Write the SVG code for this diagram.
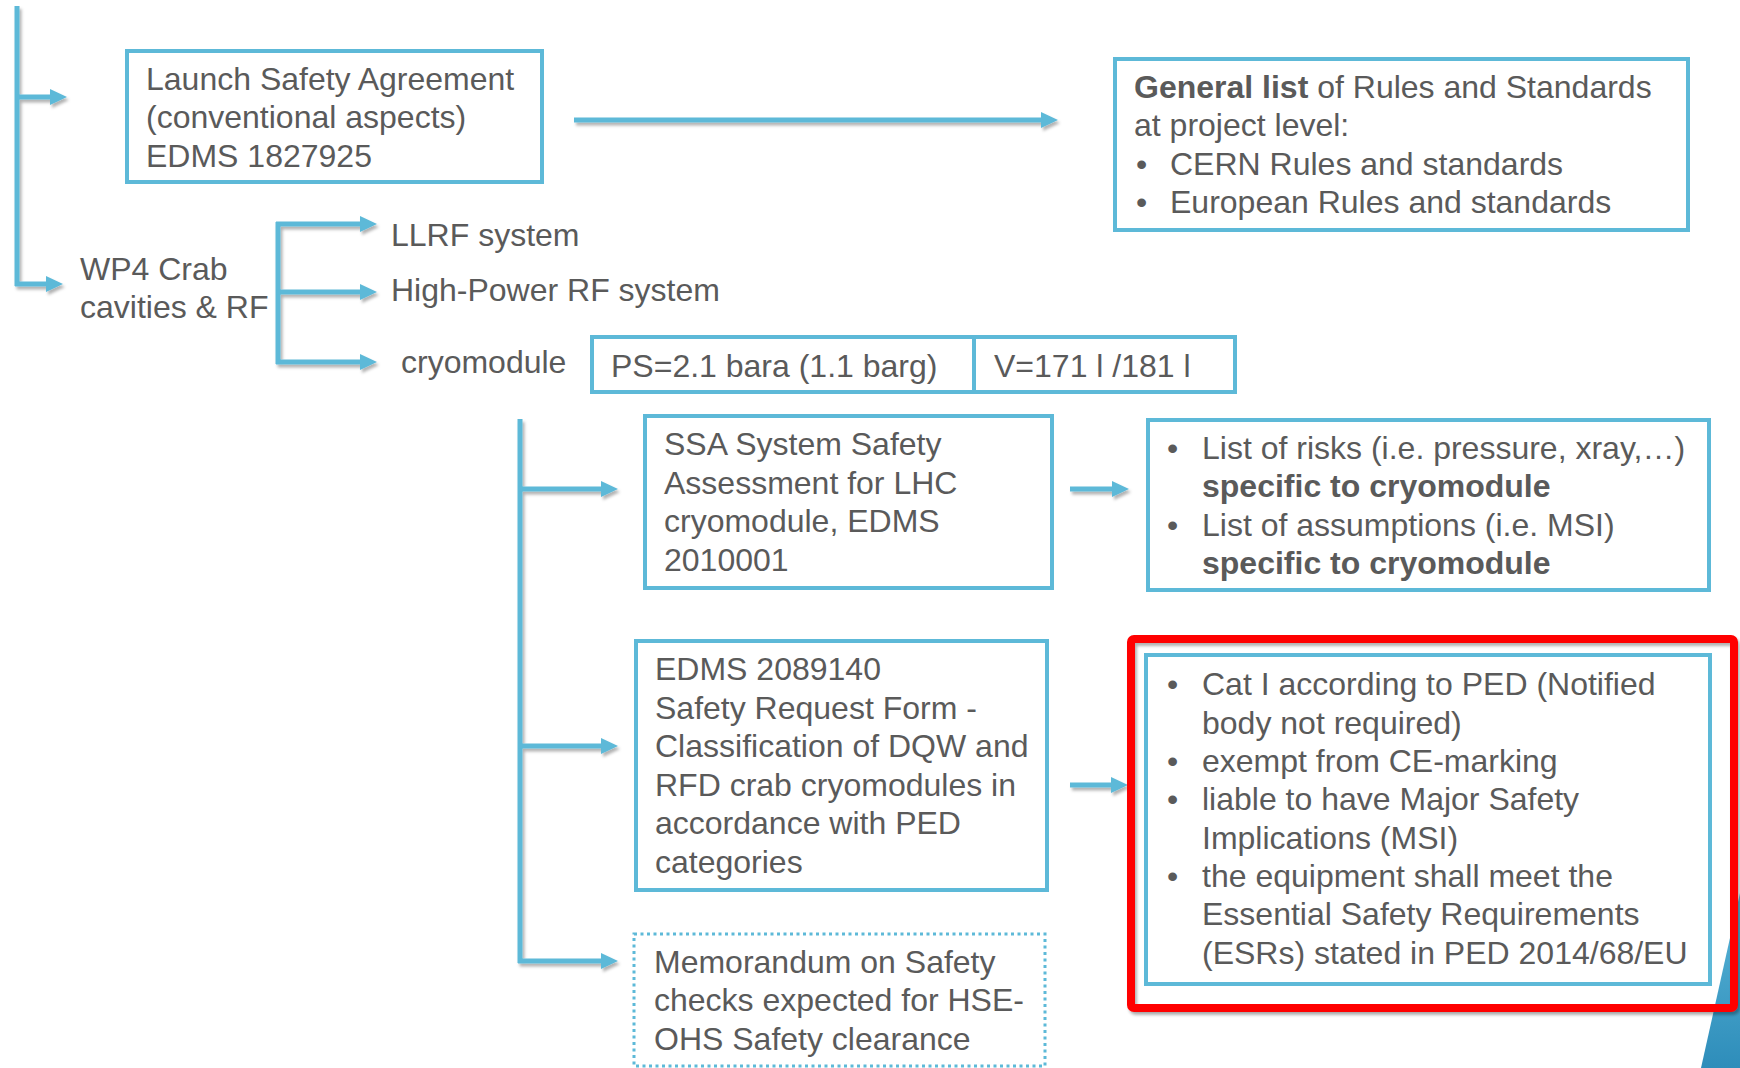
<svg xmlns="http://www.w3.org/2000/svg" width="1740" height="1068" viewBox="0 0 1740 1068">
  <defs>
    <style>
      .t { font-family: "Liberation Sans", Arial, sans-serif; font-size: 32px; fill: #5A5A5A; }
      .b { font-weight: bold; }
      .box { fill: #ffffff; stroke: #5DB9D8; stroke-width: 4; }
      .dot { fill: #ffffff; stroke: #5DB9D8; stroke-width: 3; stroke-dasharray: 3 3.5; }
      .ln { fill: none; stroke: #5DB9D8; stroke-width: 5; }
      .ar { fill: none; stroke: #5DB9D8; stroke-width: 5; marker-end: url(#ah); }
    </style>
    <marker id="ah" markerUnits="userSpaceOnUse" viewBox="0 0 17 16" markerWidth="17" markerHeight="16" refX="0" refY="8" orient="auto">
      <path d="M0,0 L17,8 L0,16 z" fill="#5DB9D8"/>
    </marker>
    <filter id="sh" filterUnits="userSpaceOnUse" x="0" y="0" width="1740" height="1068">
      <feDropShadow dx="2" dy="3" stdDeviation="1.5" flood-color="#000000" flood-opacity="0.3"/>
    </filter>
    <linearGradient id="tri" x1="0" y1="0" x2="0" y2="1">
      <stop offset="0" stop-color="#5BB6D8"/>
      <stop offset="1" stop-color="#2E8DBA"/>
    </linearGradient>
  </defs>

  <rect width="1740" height="1068" fill="#ffffff"/>

  <g id="connectors" filter="url(#sh)">
    <line class="ln" x1="17" y1="6" x2="17" y2="286"/>
    <line class="ar" x1="15" y1="97" x2="50" y2="97"/>
    <line class="ar" x1="15" y1="284" x2="46" y2="284"/>
    <line class="ar" x1="574" y1="120" x2="1041" y2="120"/>
    <line class="ln" x1="278" y1="222" x2="278" y2="364"/>
    <line class="ar" x1="276" y1="224" x2="360" y2="224"/>
    <line class="ar" x1="276" y1="292" x2="360" y2="292"/>
    <line class="ar" x1="276" y1="362" x2="360" y2="362"/>
    <line class="ln" x1="520" y1="419" x2="520" y2="963"/>
    <line class="ar" x1="518" y1="489" x2="601" y2="489"/>
    <line class="ar" x1="518" y1="746" x2="601" y2="746"/>
    <line class="ar" x1="518" y1="961" x2="601" y2="961"/>
    <line class="ar" x1="1070" y1="489" x2="1112" y2="489"/>
    <line class="ar" x1="1070" y1="785" x2="1111" y2="785"/>
  </g>

  <g id="launch">
    <rect class="box" x="127" y="51" width="415" height="131"/>
    <text class="t"><tspan x="146" y="90">Launch Safety Agreement</tspan><tspan x="146" y="128">(conventional aspects)</tspan><tspan x="146" y="167">EDMS 1827925</tspan></text>
  </g>

  <g id="general">
    <rect class="box" x="1115" y="59" width="573" height="171"/>
    <text class="t"><tspan x="1134" y="98"><tspan class="b">General list</tspan> of Rules and Standards</tspan><tspan x="1134" y="136">at project level:</tspan></text>
    <text class="t"><tspan x="1136" y="175">•</tspan><tspan x="1170" y="175">CERN Rules and standards</tspan><tspan x="1136" y="213">•</tspan><tspan x="1170" y="213">European Rules and standards</tspan></text>
  </g>

  <g id="wp4">
    <text class="t"><tspan x="80" y="280">WP4 Crab</tspan><tspan x="80" y="318">cavities &amp; RF</tspan></text>
  </g>

  <g id="llrf">
    <text class="t" x="391" y="246">LLRF system</text>
  </g>

  <g id="hprf">
    <text class="t" x="391" y="301">High-Power RF system</text>
  </g>

  <g id="cryomodule">
    <text class="t" x="401" y="373">cryomodule</text>
  </g>

  <g id="ps">
    <rect class="box" x="592" y="337" width="382" height="55"/>
    <text class="t" x="611" y="377">PS=2.1 bara (1.1 barg)</text>
  </g>

  <g id="volume">
    <rect class="box" x="974" y="337" width="261" height="55"/>
    <text class="t" x="994" y="377">V=171 l /181 l</text>
  </g>

  <g id="ssa">
    <rect class="box" x="645" y="416" width="407" height="172"/>
    <text class="t"><tspan x="664" y="455">SSA System Safety</tspan><tspan x="664" y="494">Assessment for LHC</tspan><tspan x="664" y="532">cryomodule, EDMS</tspan><tspan x="664" y="571">2010001</tspan></text>
  </g>

  <g id="risks">
    <rect class="box" x="1148" y="420" width="561" height="170"/>
    <text class="t"><tspan x="1167" y="459">•</tspan><tspan x="1202" y="459">List of risks (i.e. pressure, xray,…)</tspan><tspan class="b" x="1202" y="497">specific to cryomodule</tspan><tspan x="1167" y="536">•</tspan><tspan x="1202" y="536">List of assumptions (i.e. MSI)</tspan><tspan class="b" x="1202" y="574">specific to cryomodule</tspan></text>
  </g>

  <g id="srf">
    <rect class="box" x="636" y="641" width="411" height="249"/>
    <text class="t"><tspan x="655" y="680">EDMS 2089140</tspan><tspan x="655" y="719">Safety Request Form -</tspan><tspan x="655" y="757">Classification of DQW and</tspan><tspan x="655" y="796">RFD crab cryomodules in</tspan><tspan x="655" y="834">accordance with PED</tspan><tspan x="655" y="873">categories</tspan></text>
  </g>

  <g id="ped">
    <rect x="1131" y="639" width="603" height="369" rx="3" fill="#ffffff" stroke="none" filter="url(#sh)"/>
    <polygon points="1740,893 1740,1068 1701,1068" fill="url(#tri)"/>
    <rect x="1131" y="639" width="603" height="369" rx="3" fill="none" stroke="#FF0000" stroke-width="8" filter="url(#sh)"/>
    <rect class="box" x="1146" y="655" width="564" height="329"/>
    <text class="t"><tspan x="1167" y="695">•</tspan><tspan x="1202" y="695">Cat I according to PED (Notified</tspan><tspan x="1202" y="734">body not required)</tspan><tspan x="1167" y="772">•</tspan><tspan x="1202" y="772">exempt from CE-marking</tspan><tspan x="1167" y="810">•</tspan><tspan x="1202" y="810">liable to have Major Safety</tspan><tspan x="1202" y="849">Implications (MSI)</tspan><tspan x="1167" y="887">•</tspan><tspan x="1202" y="887">the equipment shall meet the</tspan><tspan x="1202" y="925">Essential Safety Requirements</tspan><tspan x="1202" y="964">(ESRs) stated in PED 2014/68/EU</tspan></text>
  </g>

  <g id="memorandum">
    <rect class="dot" x="634" y="934" width="411" height="132"/>
    <text class="t"><tspan x="654" y="973">Memorandum on Safety</tspan><tspan x="654" y="1011">checks expected for HSE-</tspan><tspan x="654" y="1050">OHS Safety clearance</tspan></text>
  </g>
</svg>
